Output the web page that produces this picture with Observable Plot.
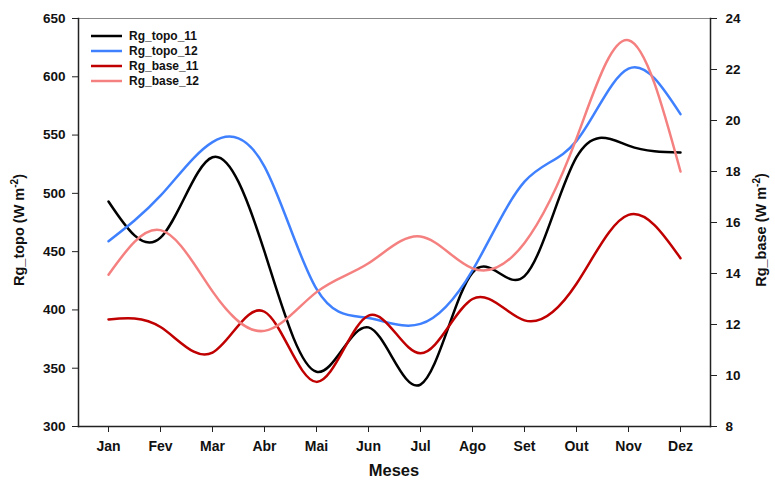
<!DOCTYPE html>
<html><head><meta charset="utf-8">
<script src="https://cdn.jsdelivr.net/npm/d3@7"></script>
<script src="https://cdn.jsdelivr.net/npm/@observablehq/plot@0.6"></script>
<style>body{margin:0;background:#fff;font-family:"Liberation Sans",Arial,sans-serif}</style>
</head><body><div id="chart"></div>
<script>
const months = ["Jan","Fev","Mar","Abr","Mai","Jun","Jul","Ago","Set","Out","Nov","Dez"];
const topo11 = [493, 462, 531, 450, 347, 385, 336, 432, 429, 531, 541, 535];
const topo12 = [459, 498, 544, 523, 418, 393, 388, 434, 510, 545, 607, 568];
const base11 = [12.2, 11.9, 10.9, 12.5, 9.75, 12.35, 10.87, 13.0, 12.16, 13.6, 16.3, 14.6];
const base12 = [13.95, 15.7, 13.3, 11.75, 13.27, 14.4, 15.45, 14.2, 15.2, 19.3, 23.15, 18.0];
const names = ["Rg_topo_11","Rg_topo_12","Rg_base_11","Rg_base_12"];
const colors = ["#000000","#3f80ff","#c00000","#f58080"];
const leftTicks = [300,350,400,450,500,550,600,650];
const rightTicks = [8,10,12,14,16,18,20,22,24];

const L0=300, L1=650, R0=8, R1=24;
const toLeft = v => L0 + (v-R0)*(L1-L0)/(R1-R0);
const fromLeft = d => R0 + (d-L0)*(R1-R0)/(L1-L0);

const series = [
  {name:names[0], values:topo11, left:true},
  {name:names[1], values:topo12, left:true},
  {name:names[2], values:base11, left:false},
  {name:names[3], values:base12, left:false}
];
const rows = series.flatMap(s => s.values.map((v,i)=>({name:s.name, month:months[i], y: s.left ? v : toLeft(v)})));

const chart = Plot.plot({
  width:775, height:480, marginLeft:78, marginRight:65, marginTop:18, marginBottom:54,
  style:{fontFamily:"Liberation Sans, Arial, sans-serif", fontWeight:"bold", fontSize:"13.5px", color:"#111", background:"#fff", overflow:"visible"},
  x:{type:"point", domain:months, padding:0.5},
  y:{domain:[L0,L1]},
  color:{domain:names, range:colors},
  marks:[
    Plot.frame({anchor:"top", stroke:"#888", strokeWidth:1}),
    Plot.frame({anchor:"left", stroke:"#222", strokeWidth:1.5}),
    Plot.frame({anchor:"right", stroke:"#222", strokeWidth:1.5}),
    Plot.frame({anchor:"bottom", stroke:"#222", strokeWidth:1.5}),
    Plot.axisX({tickSize:6, tickPadding:9, fontSize:14, label:null, stroke:"#222"}),
    Plot.axisY({ticks:leftTicks, tickSize:6, tickPadding:7, label:null, stroke:"#222"}),
    Plot.axisY({anchor:"right", ticks:rightTicks.map(toLeft), tickFormat:d=>String(Math.round(fromLeft(d))), tickSize:6, tickPadding:9, label:null, stroke:"#222"}),
    Plot.line(rows, {x:"month", y:"y", z:"name", stroke:"name", curve:"natural", strokeWidth:2.5})
  ]
});
document.getElementById("chart").appendChild(chart);

const svg = d3.select(chart);
function axisTitle(x, y, main){
  const t = svg.append("text")
    .attr("transform", `translate(${x},${y}) rotate(-90)`)
    .attr("text-anchor","middle")
    .style("font-size","14.5px").style("font-weight","bold").attr("fill","#111");
  t.append("tspan").text(main + " (W m");
  t.append("tspan").attr("dy","-6").style("font-size","10px").text("-2");
  t.append("tspan").attr("dy","6").text(")");
}
axisTitle(24, 230, "Rg_topo");
axisTitle(766, 230, "Rg_base");
svg.append("text").attr("x",394).attr("y",476).attr("text-anchor","middle")
  .style("font-size","16.5px").style("font-weight","bold").attr("fill","#111").text("Meses");

const lg = svg.append("g").attr("text-anchor","start");
names.forEach((n,i)=>{
  const y = 36 + 15*i;
  lg.append("line").attr("x1",91).attr("x2",122).attr("y1",y).attr("y2",y)
    .attr("stroke",colors[i]).attr("stroke-width",2.5);
  lg.append("text").attr("x",129).attr("y",y).attr("dy","0.35em").attr("text-anchor","start")
    .style("font-size","12px").style("font-weight","bold").attr("fill","#111").text(n);
});
</script></body></html>
